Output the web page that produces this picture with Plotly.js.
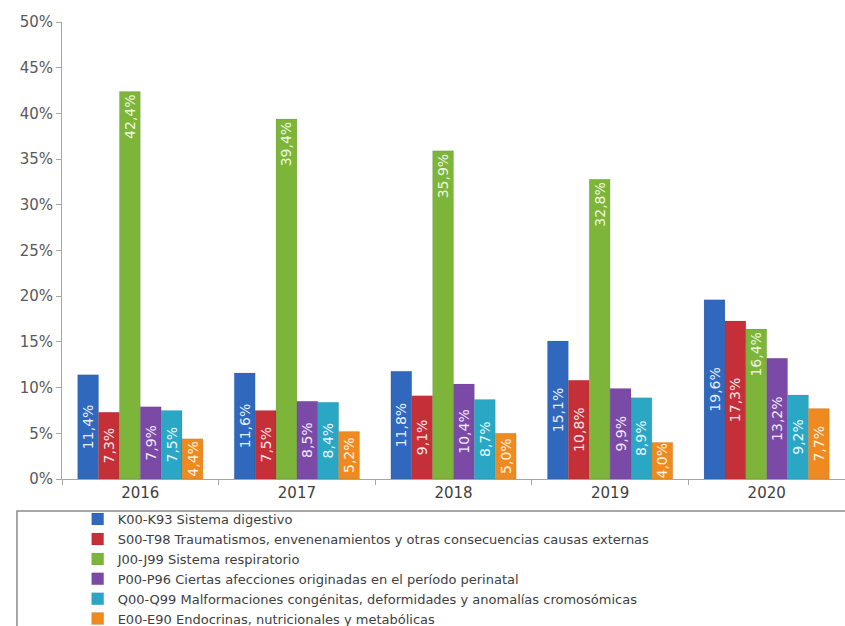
<!DOCTYPE html>
<html>
<head>
<meta charset="utf-8">
<script src="https://cdn.plot.ly/plotly-3.0.1.min.js"></script>
<style>html,body{margin:0;padding:0;background:#fff;}#chart{width:845px;height:626px;}</style>
</head>
<body>
<div id="chart"></div>
<script>
const years = ['2016', '2017', '2018', '2019', '2020'];
const seriesNames = [
  'K00-K93 Sistema digestivo',
  'S00-T98 Traumatismos, envenenamientos y otras consecuencias causas externas',
  'J00-J99 Sistema respiratorio',
  'P00-P96 Ciertas afecciones originadas en el período perinatal',
  'Q00-Q99 Malformaciones congénitas, deformidades y anomalías cromosómicas',
  'E00-E90 Endocrinas, nutricionales y metabólicas'
];
const digestivo = [11.4, 11.6, 11.8, 15.1, 19.6];
const traumatismos = [7.3, 7.5, 9.1, 10.8, 17.3];
const respiratorio = [42.4, 39.4, 35.9, 32.8, 16.4];
const perinatal = [7.9, 8.5, 10.4, 9.9, 13.2];
const malformaciones = [7.5, 8.4, 8.7, 8.9, 9.2];
const endocrinas = [4.4, 5.2, 5.0, 4.0, 7.7];
const seriesValues = [digestivo, traumatismos, respiratorio, perinatal, malformaciones, endocrinas];
const colors = ['#2f68bd', '#c52f38', '#7cb53a', '#7b4aa6', '#2aa7c4', '#ee8a20'];
const textColors = ['#e6eefa', '#fbe6e6', '#eef6e0', '#f0e8f8', '#e4f6fa', '#fff2e2'];
const anchors = ['middle', 'middle', 'end', 'middle', 'middle', 'middle'];

const traces = seriesValues.map((vals, i) => ({
  type: 'bar',
  name: seriesNames[i],
  x: years,
  y: vals,
  marker: {color: colors[i], line: {color: 'rgba(0,0,0,0.15)', width: 0.5}},
  text: vals.map(v => v.toFixed(1).replace('.', ',') + '%'),
  textposition: 'inside',
  insidetextanchor: anchors[i],
  textangle: -90,
  constraintext: 'none',
  textfont: {family: 'DejaVu Sans', size: 14, color: textColors[i]},
  hoverinfo: 'x+y+name'
}));

const layout = {
  width: 845, height: 626,
  margin: {l: 62, r: 0, t: 22, b: 147, autoexpand: false},
  paper_bgcolor: '#ffffff', plot_bgcolor: '#ffffff',
  barmode: 'group', bargap: 0.2, bargroupgap: 0,
  showlegend: true,
  xaxis: {
    type: 'category',
    showline: true, linecolor: '#a6a6a6', linewidth: 1,
    ticks: 'outside', tickson: 'boundaries', ticklen: 5, tickcolor: '#a6a6a6',
    tickfont: {family: 'DejaVu Sans', size: 15, color: '#404040'},
    showgrid: false, zeroline: false
  },
  yaxis: {
    range: [0, 50], dtick: 5, ticksuffix: '%',
    showline: true, linecolor: '#a6a6a6', linewidth: 1,
    ticks: 'outside', ticklen: 5, tickcolor: '#a6a6a6',
    tickfont: {family: 'DejaVu Sans', size: 15, color: '#595959'},
    showgrid: false, zeroline: false
  },
  legend: {
    orientation: 'v',
    x: 0.02, xanchor: 'left',
    y: -0.055, yanchor: 'top',
    font: {family: 'DejaVu Sans', size: 13, color: '#404040'},
    bgcolor: 'rgba(0,0,0,0)', borderwidth: 0,
    tracegroupgap: 0, itemwidth: 30
  },
  shapes: [{
    type: 'rect', xref: 'paper', yref: 'paper',
    x0: -0.0575, x1: 1.05, y0: -0.07, y1: -0.4,
    line: {color: '#8c8c8c', width: 1.5}, fillcolor: 'rgba(0,0,0,0)', layer: 'below'
  }]
};

Plotly.newPlot('chart', traces, layout, {displayModeBar: false, staticPlot: true});
</script>
</body>
</html>
